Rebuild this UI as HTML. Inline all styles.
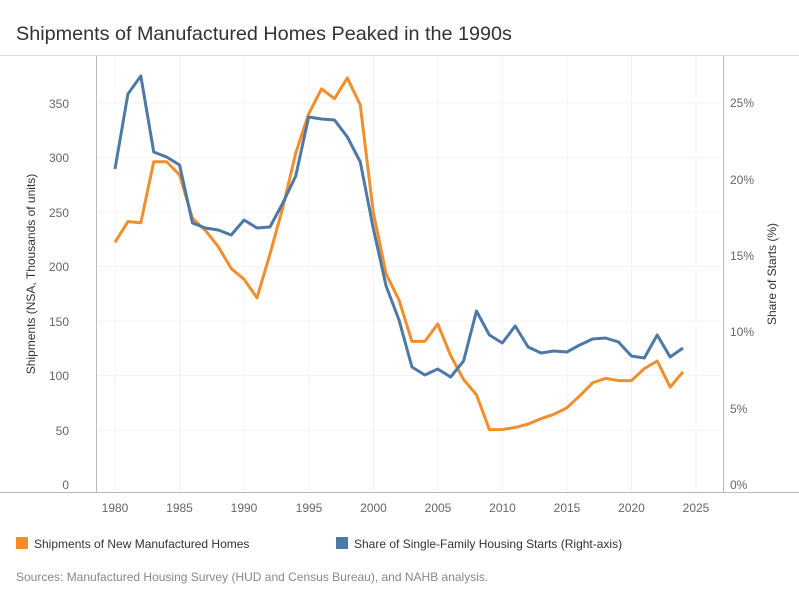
<!DOCTYPE html>
<html><head><meta charset="utf-8"><style>
body{margin:0;background:#fff;width:799px;height:599px;overflow:hidden;font-family:"Liberation Sans",sans-serif}
</style></head><body>
<svg width="799" height="599" xmlns="http://www.w3.org/2000/svg" font-family="Liberation Sans, sans-serif">
<text x="16" y="40" font-size="19.8" fill="#333">Shipments of Manufactured Homes Peaked in the 1990s</text>
<line x1="0" y1="55.5" x2="799" y2="55.5" stroke="#ddd"/>
<g stroke="#f3f3f3" stroke-width="1">
<line x1="96" x2="723" y1="103" y2="103"/><line x1="96" x2="723" y1="157.7" y2="157.7"/><line x1="96" x2="723" y1="212" y2="212"/><line x1="96" x2="723" y1="266.5" y2="266.5"/><line x1="96" x2="723" y1="321" y2="321"/><line x1="96" x2="723" y1="375.6" y2="375.6"/><line x1="96" x2="723" y1="430" y2="430"/>
<line y1="56" y2="492" x1="115" x2="115"/><line y1="56" y2="492" x1="179.5" x2="179.5"/><line y1="56" y2="492" x1="244" x2="244"/><line y1="56" y2="492" x1="309" x2="309"/><line y1="56" y2="492" x1="373.5" x2="373.5"/><line y1="56" y2="492" x1="438" x2="438"/><line y1="56" y2="492" x1="502.5" x2="502.5"/><line y1="56" y2="492" x1="567" x2="567"/><line y1="56" y2="492" x1="631.5" x2="631.5"/><line y1="56" y2="492" x1="696" x2="696"/>
</g>
<line x1="96.5" y1="56" x2="96.5" y2="492" stroke="#bbb"/>
<line x1="723.5" y1="56" x2="723.5" y2="492" stroke="#bbb"/>
<line x1="0" y1="492.5" x2="799" y2="492.5" stroke="#bbb"/>
<g font-size="12" fill="#666" text-anchor="end">
<text x="69" y="108">350</text><text x="69" y="162">300</text><text x="69" y="217">250</text><text x="69" y="271">200</text><text x="69" y="326">150</text><text x="69" y="380">100</text><text x="69" y="435">50</text><text x="69" y="489">0</text>
</g>
<g font-size="12" fill="#666">
<text x="730" y="107">25%</text><text x="730" y="184">20%</text><text x="730" y="260">15%</text><text x="730" y="336">10%</text><text x="730" y="413">5%</text><text x="730" y="489">0%</text>
</g>
<g font-size="12" fill="#666" text-anchor="middle">
<text x="115" y="512">1980</text><text x="179.5" y="512">1985</text><text x="244" y="512">1990</text><text x="309" y="512">1995</text><text x="373.5" y="512">2000</text><text x="438" y="512">2005</text><text x="502.5" y="512">2010</text><text x="567" y="512">2015</text><text x="631.5" y="512">2020</text><text x="696" y="512">2025</text>
</g>
<text transform="translate(35,274) rotate(-90)" font-size="12" fill="#333" text-anchor="middle">Shipments (NSA, Thousands of units)</text>
<text transform="translate(776,274) rotate(-90)" font-size="12" fill="#333" text-anchor="middle">Share of Starts (%)</text>
<polyline id="o" fill="none" stroke="#f28e2b" stroke-width="3" stroke-linejoin="round"/>
<polyline id="b" fill="none" stroke="#4e79a7" stroke-width="3" stroke-linejoin="round"/>
<rect x="16" y="537" width="12" height="12" fill="#f28e2b"/>
<text x="34" y="548" font-size="12" fill="#333">Shipments of New Manufactured Homes</text>
<rect x="336" y="537" width="12" height="12" fill="#4e79a7"/>
<text x="354" y="548" font-size="12" fill="#333">Share of Single-Family Housing Starts (Right-axis)</text>
<text x="16" y="581" font-size="12" fill="#888">Sources: Manufactured Housing Survey (HUD and Census Bureau), and NAHB analysis.</text>
</svg>
<script>
var o=[222,241,240,296,296,284,244,233,218,198,188,171,211,254,304,340,363,354,373,348,250,193,169,131,131,147,118,96,82,50,50,52,55,60,64,70,81,93,97,95,95,106,113,89,103];
var b=[169,94,76,152,157,165,223,228,230,235,220,228,227,203,176,117,119,120,137,162,228,286,320,367,375,369,377,361,311,335,343,326,347,353,351,352,345,339,338,342,356,358,335,357,348];
function x(i){return 115+i*12.91}
document.getElementById('o').setAttribute('points',o.map(function(v,i){return x(i)+','+(484-v*1.0886)}).join(' '));
document.getElementById('b').setAttribute('points',b.map(function(v,i){return x(i)+','+v}).join(' '));
</script>
</body></html>
